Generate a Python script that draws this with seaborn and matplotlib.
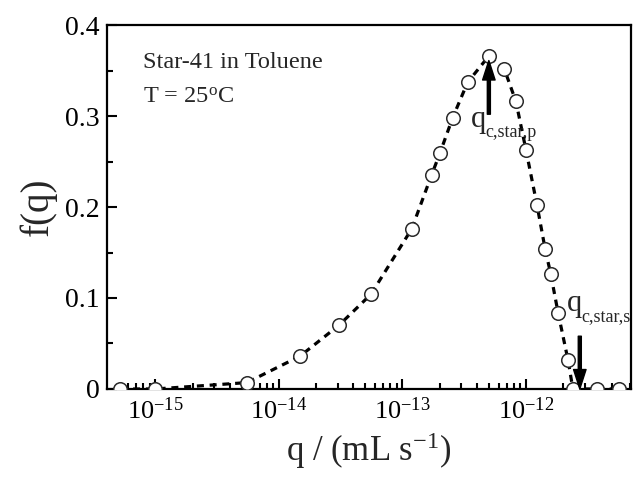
import matplotlib
matplotlib.use("Agg")
import matplotlib.pyplot as plt
import matplotlib.ticker as mticker
import numpy as np
import pandas as pd
import seaborn as sns

# ---- data ----
q_values = [5.2e-16, 1.0e-15, 5.5e-15, 1.48e-14, 3.06e-14, 5.56e-14, 1.19e-13,
            1.72e-13, 2.01e-13, 2.55e-13, 3.37e-13, 5.01e-13, 6.67e-13, 8.30e-13,
            1.00e-12, 1.23e-12, 1.43e-12, 1.59e-12, 1.82e-12, 2.19e-12, 2.40e-12,
            3.76e-12, 5.66e-12]
f_values = [0.0, 0.0, 0.007, 0.036, 0.070, 0.104, 0.176,
            0.235, 0.259, 0.298, 0.337, 0.366, 0.352, 0.316,
            0.263, 0.202, 0.154, 0.126, 0.084, 0.032, 0.0,
            0.0, 0.0]
y_ticks = [0.0, 0.1, 0.2, 0.3, 0.4]
y_tick_labels = ["0", "0.1", "0.2", "0.3", "0.4"]
x_ticks = [1e-15, 1e-14, 1e-13, 1e-12]
x_tick_labels = [r"$10^{-15}$", r"$10^{-14}$", r"$10^{-13}$", r"$10^{-12}$"]
annot_text = ["Star-41 in Toluene", r"T = 25$^\mathrm{o}$C"]
arrow_labels = [("q", "c,star,p"), ("q", "c,star,s")]
q_peak = 5.01e-13
q_stop = 2.73e-12

df = pd.DataFrame({"q": q_values, "f": f_values})

sns.set_theme(style="ticks")
plt.rcParams["font.family"] = ["Liberation Serif", "DejaVu Serif"]
plt.rcParams["mathtext.fontset"] = "custom"
plt.rcParams["mathtext.rm"] = "Liberation Serif"
plt.rcParams["mathtext.it"] = "Liberation Serif:italic"
plt.rcParams["mathtext.bf"] = "Liberation Serif:bold"

fig = plt.figure(figsize=(6.36, 4.82), dpi=100)
ax = fig.add_axes([0.168, 0.193, 0.824, 0.755])

sns.lineplot(data=df, x="q", y="f", ax=ax, color="black", linewidth=2.3,
             linestyle=(0, (2.2, 1.8)), sort=False, zorder=2)
sns.scatterplot(data=df, x="q", y="f", ax=ax, s=95, facecolor="white",
                edgecolor="#2a2a2a", linewidth=1.1, zorder=3)

ax.set_xscale("log")
ax.set_xlim(10 ** -15.393, 10 ** -11.15)
ax.set_ylim(0, 0.4)

ax.set_yticks(y_ticks)
ax.set_yticklabels(y_tick_labels)
ax.yaxis.set_minor_locator(mticker.MultipleLocator(0.05))
ax.set_xticks(x_ticks)
ax.set_xticklabels(x_tick_labels)
ax.xaxis.set_minor_locator(mticker.LogLocator(base=10, subs=np.arange(2, 10)))
ax.xaxis.set_minor_formatter(mticker.NullFormatter())

ax.tick_params(which="both", direction="in", top=False, right=False,
               width=1.5, colors="black")
ax.tick_params(which="major", length=7, pad=5)
ax.tick_params(which="minor", length=4)
ax.tick_params(axis="y", labelsize=20)
ax.tick_params(axis="x", labelsize=19, pad=6)
for sp in ax.spines.values():
    sp.set_linewidth(1.6)
    sp.set_color("black")

ax.set_xlabel(r"q / (mL s$^{-1}$)", fontsize=25, labelpad=5)
ax.set_ylabel("f(q)", fontsize=28, labelpad=6)

ax.text(0.069, 0.898, annot_text[0], transform=ax.transAxes, fontsize=17.5,
        ha="left", va="center")
ax.text(0.069, 0.802, annot_text[1], transform=ax.transAxes, fontsize=17.5,
        ha="left", va="center")

arrow = dict(facecolor="black", edgecolor="black", width=2.2, headwidth=9,
             headlength=14, shrink=0)
ax.annotate("", xy=(q_peak, 0.361), xytext=(q_peak, 0.302), arrowprops=arrow)
ax.annotate("", xy=(q_stop, 0.0), xytext=(q_stop, 0.058), arrowprops=arrow,
            annotation_clip=False)

label_pos = [(10 ** -12.445, 0.288), (10 ** -11.668, 0.0857)]
for (main, sub), (lx, ly) in zip(arrow_labels, label_pos):
    ax.text(lx, ly, main, fontsize=22, ha="left", va="baseline")
    ax.annotate(sub, xy=(lx, ly), xytext=(10.5, -7), textcoords="offset points",
                fontsize=13, ha="left", va="baseline")

fig.savefig("out.png", dpi=100)
